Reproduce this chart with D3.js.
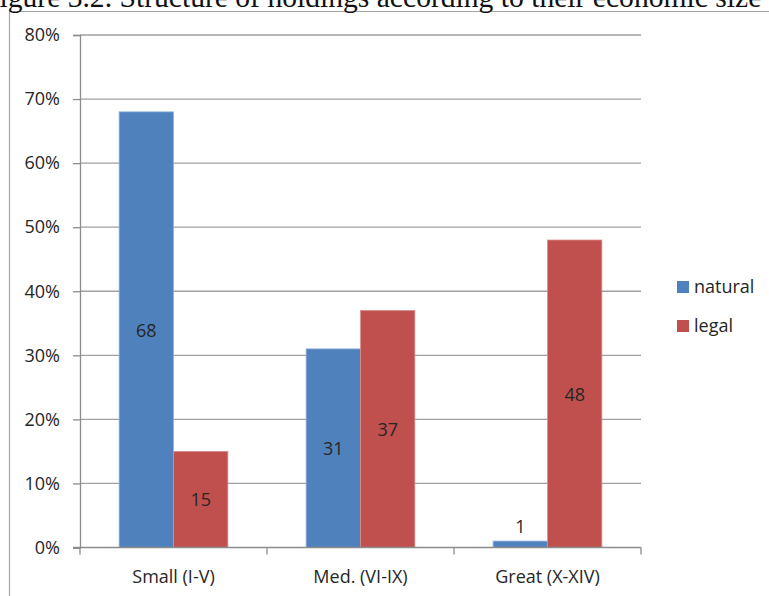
<!DOCTYPE html>
<html>
<head>
<meta charset="utf-8">
<script src="https://cdn.jsdelivr.net/npm/d3@7"></script>
<style>
  html, body { margin: 0; padding: 0; background: #fff; overflow: hidden; }
  svg { display: block; }
</style>
</head>
<body>
<svg id="chart" width="769" height="596"></svg>
<script>
// Holdings by economic size class, share (%) of natural and legal persons
const categories = ["Small (I-V)", "Med. (VI-IX)", "Great (X-XIV)"];
const seriesNames = ["natural", "legal"];
const naturalValues = [68, 31, 1];
const legalValues = [15, 37, 48];
const yTicks = [0, 10, 20, 30, 40, 50, 60, 70, 80];
const colors = ["#4F81BD", "#C0504D"];
const strokes = ["#8eaedb", "#d9908e"];
const titleText = "Figure 3.2. Structure of holdings according to their economic size";

const svg = d3.select("#chart");
const font = "'Open Sans', 'Noto Sans', sans-serif";

// Outer frame (left and top edges visible)
svg.append("path")
  .attr("d", "M9.5,596 V11.5 H769")
  .attr("fill", "none")
  .attr("stroke", "#a6a6a6")
  .attr("stroke-width", 1.2);

// Caption above the chart, running past the page edges
svg.append("text")
  .attr("x", -17)
  .attr("y", 6.5)
  .attr("font-family", "'Liberation Serif', 'DejaVu Serif', serif")
  .attr("font-size", 29.6)
  .attr("fill", "#111")
  .text(titleText);

const plot = { left: 80, right: 641, top: 35, bottom: 547.5 };

const x0 = d3.scaleBand()
  .domain(categories)
  .range([plot.left, plot.right])
  .paddingInner(0)
  .paddingOuter(0);

const x1 = d3.scaleBand()
  .domain(seriesNames)
  .range([0, x0.bandwidth()])
  .paddingInner(0)
  .paddingOuter(0.72);

const y = d3.scaleLinear().domain([0, 80]).range([plot.bottom, plot.top]);

// Horizontal gridlines
svg.append("g")
  .selectAll("line")
  .data(yTicks.filter(d => d > 0))
  .join("line")
  .attr("x1", plot.left)
  .attr("x2", plot.right)
  .attr("y1", d => y(d))
  .attr("y2", d => y(d))
  .attr("stroke", "#a0a0a0")
  .attr("stroke-width", 1.3);

// Y axis
const yAxis = d3.axisLeft(y)
  .tickValues(yTicks)
  .tickFormat(d => d + "%")
  .tickSize(7)
  .tickPadding(13);
const gy = svg.append("g")
  .attr("transform", `translate(${plot.left},0)`)
  .call(yAxis);
gy.select(".domain").attr("stroke", "#8c8c8c").attr("stroke-width", 1.3);
gy.selectAll(".tick line").attr("stroke", "#8c8c8c").attr("stroke-width", 1.3);
gy.selectAll(".tick text")
  .attr("font-family", font)
  .attr("font-size", 18)
  .attr("fill", "#262626");

// Bars
const data = categories.map((c, i) => ({
  category: c,
  values: [
    { series: seriesNames[0], value: naturalValues[i], idx: 0 },
    { series: seriesNames[1], value: legalValues[i], idx: 1 }
  ]
}));

const groups = svg.append("g")
  .selectAll("g")
  .data(data)
  .join("g")
  .attr("transform", d => `translate(${x0(d.category)},0)`);

groups.selectAll("rect")
  .data(d => d.values)
  .join("rect")
  .attr("x", d => x1(d.series))
  .attr("width", x1.bandwidth())
  .attr("y", d => y(d.value))
  .attr("height", d => y(0) - y(d.value))
  .attr("fill", d => colors[d.idx])
  .attr("stroke", d => strokes[d.idx])
  .attr("stroke-width", 0.8);

// Value labels: centred inside the bar, or above it when the bar is too short
groups.selectAll("text")
  .data(d => d.values)
  .join("text")
  .attr("x", d => x1(d.series) + x1.bandwidth() / 2)
  .attr("y", d => {
    const h = y(0) - y(d.value);
    return h < 24 ? y(d.value) - 8 : (y(d.value) + y(0)) / 2 + 7;
  })
  .attr("text-anchor", "middle")
  .attr("font-family", font)
  .attr("font-size", 18)
  .attr("fill", "#262626")
  .text(d => d.value);

// X axis
const xAxis = d3.axisBottom(x0).tickSize(0).tickPadding(22.5);
const gx = svg.append("g")
  .attr("transform", `translate(0,${plot.bottom})`)
  .call(xAxis);
gx.select(".domain").remove();
gx.append("line")
  .attr("x1", plot.left - 7)
  .attr("x2", plot.right)
  .attr("stroke", "#8c8c8c")
  .attr("stroke-width", 1.3);
gx.selectAll(".sep")
  .data(d3.range(categories.length + 1))
  .join("line")
  .attr("class", "sep")
  .attr("x1", i => plot.left + i * x0.step())
  .attr("x2", i => plot.left + i * x0.step())
  .attr("y1", 0)
  .attr("y2", 7)
  .attr("stroke", "#8c8c8c")
  .attr("stroke-width", 1.3);
gx.selectAll(".tick text")
  .attr("font-family", font)
  .attr("font-size", 18)
  .attr("fill", "#262626");

// Legend
const legend = svg.append("g")
  .selectAll("g")
  .data(seriesNames)
  .join("g")
  .attr("transform", (d, i) => `translate(677,${281 + i * 39})`);
legend.append("rect")
  .attr("width", 12)
  .attr("height", 12)
  .attr("fill", (d, i) => colors[i]);
legend.append("text")
  .attr("x", 17)
  .attr("y", 12)
  .attr("font-family", font)
  .attr("font-size", 18)
  .attr("fill", "#262626")
  .text(d => d);
</script>
</body>
</html>
